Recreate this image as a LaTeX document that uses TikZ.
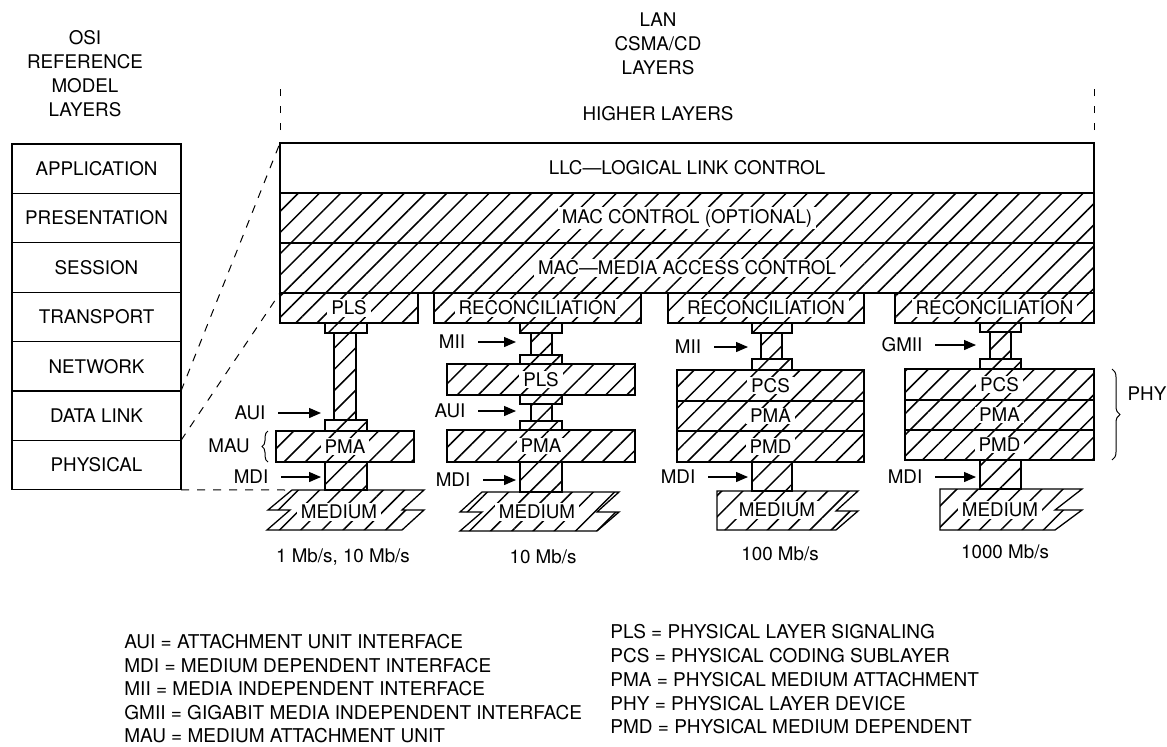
\documentclass[tikz,border=0pt]{standalone}
\usepackage{fontspec}
\setmainfont{TeX Gyre Heros}
\usetikzlibrary{arrows.meta,patterns.meta,fit,decorations.pathreplacing}
\tikzset{
  layer/.style={draw, line width=0.65pt, inner sep=0pt, outer sep=0pt},
  hatched/.style={layer, pattern={Lines[angle=45,distance=7.5pt,line width=0.75pt]}},
  lbl/.style={fill=white, inner xsep=2pt, inner ysep=0.8pt},
  arr/.style={-{Triangle[length=6pt,width=5pt]}, line width=0.65pt, shorten <=3pt, shorten >=2pt},
  link/.style={line width=0.5pt, dash pattern=on 4pt off 4pt},
  vdash/.style={line width=0.5pt, dash pattern=on 3.5pt off 5pt},
  brc/.style={decorate, decoration={brace, amplitude=3pt}, line width=0.5pt},
  legend/.style={anchor=west, inner sep=0pt, font=\fontsize{9.5}{11}\selectfont}
}
\begin{document}
\begin{tikzpicture}[x=0.5pt,y=-0.5pt,font=\fontsize{9.4}{12}\selectfont]
\useasboundingbox (0,0) rectangle (1167,746);

% titles
\node[align=center] (osititle) at (85,74) {OSI\\REFERENCE\\MODEL\\LAYERS};
\node[align=center] (lantitle) at (658,44) {LAN\\CSMA/CD\\LAYERS};
\node (higher) at (658,114) {HIGHER LAYERS};

% OSI model
\foreach \name [count=\i] in {APPLICATION,PRESENTATION,SESSION,TRANSPORT,NETWORK,DATA LINK,PHYSICAL}
  \node[layer, minimum width=84.5pt, minimum height=24.7pt] (osi\i) at (96.5,{168.7+(\i-1)*49.4}) {\name};

% LAN layers
\node[layer, fit={(280,143) (1094,193)}, label={[lbl]center:LLC—LOGICAL LINK CONTROL}] (llc) {};
\node[hatched, fit={(280,193) (1094,243)}, label={[lbl]center:MAC CONTROL (OPTIONAL)}] (macctl) {};
\node[hatched, fit={(280,243) (1094,293)}, label={[lbl]center:MAC—MEDIA ACCESS CONTROL}] (mac) {};
\draw[vdash] (llc.north west) ++(0,-13) -- ++(0,-45);
\draw[vdash] (llc.north east) ++(0,-13) -- ++(0,-45);

% 1 Mb/s, 10 Mb/s
\node[hatched, fit={(280,293) (418,323)}, label={[lbl]center:PLS}] (pls1) {};
\node[hatched, fit={(325,323) (367,333)}] (cap1a) {};
\node[hatched, fit={(334,333) (356,420)}] (bar1) {};
\node[hatched, fit={(325,420) (367,431)}] (cap1b) {};
\node[hatched, fit={(276,431) (414,462)}, label={[lbl]center:PMA}] (pma1) {};
\node[hatched, fit={(325,462) (367,490)}] (mdi1) {};
\coordinate (med1) at (292,490);
\draw[hatched] (med1) -- (424,490) -- (402,510) -- (424,510) -- (402,530) -- (267,530) -- (290,510) -- (268,510) -- cycle;
\node[lbl] (medium1) at (339,512) {MEDIUM};
\node (aui1) at (250,413) {AUI};
\draw[arr] (aui1) -- (aui1 -| cap1b.west);
\node (mau1) at (229,446) {MAU};
\draw[brc] ([xshift=-4pt]pma1.south west) -- ([xshift=-4pt]pma1.north west);
\node (mdil1) at (251,477) {MDI};
\draw[arr] (mdil1) -- (mdil1 -| mdi1.west);
\node (speed1) at (343,557) {1 Mb/s, 10 Mb/s};

% 10 Mb/s
\node[hatched, fit={(434,293) (641,323)}, label={[lbl]center:RECONCILIATION}] (rec2) {};
\node[hatched, fit={(520,323) (562,333)}] (cap2a) {};
\node[hatched, fit={(531,333) (552,355)}] (bar2a) {};
\node[hatched, fit={(520,355) (562,364)}] (cap2b) {};
\node[hatched, fit={(447,364) (635,395)}, label={[lbl]center:PLS}] (pls2) {};
\node[hatched, fit={(520,395) (562,404)}] (cap2c) {};
\node[hatched, fit={(531,404) (552,421)}] (bar2b) {};
\node[hatched, fit={(520,421) (562,430)}] (cap2d) {};
\node[hatched, fit={(447,430) (635,462)}, label={[lbl]center:PMA}] (pma2) {};
\node[hatched, fit={(520,462) (562,492)}] (mdi2) {};
\draw[hatched] (482,492) -- (619,492) -- (597,512) -- (619,512) -- (597,531) -- (460,531) -- (482,512) -- (460,512) -- cycle;
\node[lbl] (medium2) at (537,512) {MEDIUM};
\node (mii2) at (452,342) {MII};
\draw[arr] (mii2) -- (mii2 -| cap2a.west);
\node (aui2) at (450,411) {AUI};
\draw[arr] (aui2) -- (aui2 -| cap2c.west);
\node (mdil2) at (453,480) {MDI};
\draw[arr] (mdil2) -- (mdil2 -| mdi2.west);
\node (speed2) at (543,557) {10 Mb/s};

% 100 Mb/s
\node[hatched, fit={(668,293) (864,323)}, label={[lbl]center:RECONCILIATION}] (rec3) {};
\node[hatched, fit={(752,323) (792,333)}] (cap3a) {};
\node[hatched, fit={(761,333) (782,359)}] (bar3) {};
\node[hatched, fit={(752,359) (792,370)}] (cap3b) {};
\node[hatched, fit={(677,370) (864,401)}, label={[lbl]center:PCS}] (pcs3) {};
\node[hatched, fit={(677,401) (864,431)}, label={[lbl]center:PMA}] (pma3) {};
\node[hatched, fit={(677,431) (864,462)}, label={[lbl]center:PMD}] (pmd3) {};
\node[hatched, fit={(752,462) (792,491)}] (mdi3) {};
\draw[hatched] (717,491) -- (858,491) -- (836,511) -- (858,511) -- (836,530) -- (717,530) -- cycle;
\node[lbl] (medium3) at (777,510) {MEDIUM};
\node (mii3) at (688,347) {MII};
\draw[arr] (mii3) -- (mii3 -| cap3a.west);
\node (mdil3) at (678,477) {MDI};
\draw[arr] (mdil3) -- (mdil3 -| mdi3.west);
\node (speed3) at (780,554) {100 Mb/s};

% 1000 Mb/s
\node[hatched, fit={(895,293) (1094,323)}, label={[lbl]center:RECONCILIATION}] (rec4) {};
\node[hatched, fit={(980,323) (1021,332)}] (cap4a) {};
\node[hatched, fit={(990,332) (1011,359)}] (bar4) {};
\node[hatched, fit={(980,359) (1021,369)}] (cap4b) {};
\node[hatched, fit={(905,369) (1094,400)}, label={[lbl]center:PCS}] (pcs4) {};
\node[hatched, fit={(905,400) (1094,430)}, label={[lbl]center:PMA}] (pma4) {};
\node[hatched, fit={(905,430) (1094,460)}, label={[lbl]center:PMD}] (pmd4) {};
\node[hatched, fit={(980,460) (1021,489)}] (mdi4) {};
\draw[hatched] (940,489) -- (1082,489) -- (1055,510) -- (1082,510) -- (1055,530) -- (940,530) -- cycle;
\node[lbl] (medium4) at (1000,510) {MEDIUM};
\node (gmii4) at (902,345) {GMII};
\draw[arr] (gmii4) -- (gmii4 -| cap4a.west);
\node (mdil4) at (905,477) {MDI};
\draw[arr] (mdil4) -- (mdil4 -| mdi4.west);
\draw[brc, decoration={brace, amplitude=4pt}] ([xshift=9pt]pcs4.north east) -- ([xshift=9pt]pmd4.south east);
\node (phy) at (1147,394) {PHY};
\node (speed4) at (1005,552) {1000 Mb/s};

% OSI to LAN
\draw[link] (osi6.north east) -- (llc.north west);
\draw[link] (osi7.north east) -- (mac.south west);
\draw[link] (osi7.south east) -- (med1);

% legend
\foreach \txt [count=\i] in {AUI = ATTACHMENT UNIT INTERFACE,MDI = MEDIUM DEPENDENT INTERFACE,MII = MEDIA INDEPENDENT INTERFACE,GMII = GIGABIT MEDIA INDEPENDENT INTERFACE,MAU = MEDIUM ATTACHMENT UNIT}
  \node[legend] (keyl\i) at (124,{642+(\i-1)*23.5}) {\txt};
\foreach \txt [count=\i] in {PLS = PHYSICAL LAYER SIGNALING,PCS = PHYSICAL CODING SUBLAYER,PMA = PHYSICAL MEDIUM ATTACHMENT,PHY = PHYSICAL LAYER DEVICE,PMD = PHYSICAL MEDIUM DEPENDENT}
  \node[legend] (keyr\i) at (610,{632+(\i-1)*23.75}) {\txt};
\end{tikzpicture}
\end{document}
